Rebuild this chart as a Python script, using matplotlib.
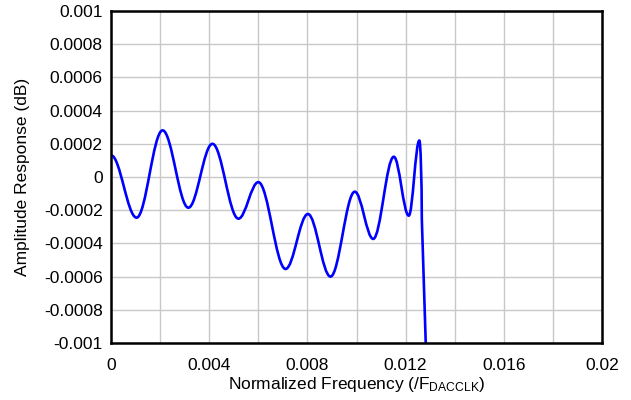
import matplotlib
matplotlib.use("Agg")
import matplotlib.pyplot as plt
from matplotlib.path import Path
from matplotlib.patches import PathPatch

# Ripple peaks / troughs (x in /F_DACCLK, y in dB)
peak_x = [0.0, 0.00104, 0.0021, 0.00315, 0.00413, 0.00519, 0.0060, 0.00711,
          0.00802, 0.00894, 0.00993, 0.01068, 0.01152, 0.01213, 0.01256]
peak_y = [0.000131, -0.000245, 0.000281, -0.000185, 0.0002, -0.000251, -0.000031,
          -0.000554, -0.000223, -0.0006, -0.0000885, -0.000373, 0.000122,
          -0.000233, 0.00022]

# roll-off after the last ripple
tail_x = [0.01266, 0.01282, 0.01288]
tail_y = [-0.00025, -0.001, -0.0012]

x_ticks = [0, 0.004, 0.008, 0.012, 0.016, 0.02]
x_labels = ["0", "0.004", "0.008", "0.012", "0.016", "0.02"]
y_ticks = [0.001, 0.0008, 0.0006, 0.0004, 0.0002, 0, -0.0002, -0.0004,
           -0.0006, -0.0008, -0.001]
y_labels = ["0.001", "0.0008", "0.0006", "0.0004", "0.0002", "0", "-0.0002",
            "-0.0004", "-0.0006", "-0.0008", "-0.001"]

plt.rcParams["font.family"] = ["Liberation Sans", "DejaVu Sans"]
plt.rcParams["mathtext.default"] = "regular"

fig = plt.figure(figsize=(6.31, 4.0), dpi=100)
ax = fig.add_axes([0.176, 0.1425, 0.778, 0.83])

# smooth curve: cubic bezier between neighbouring extrema (flat tangents)
verts = [(peak_x[0], peak_y[0])]
codes = [Path.MOVETO]
for i in range(1, len(peak_x)):
    x0, y0 = peak_x[i - 1], peak_y[i - 1]
    x1, y1 = peak_x[i], peak_y[i]
    d = 0.364 * (x1 - x0)
    verts += [(x0 + d, y0), (x1 - d, y1), (x1, y1)]
    codes += [Path.CURVE4] * 3

# steep drop after the last peak
x0, y0 = peak_x[-1], peak_y[-1]
x1, y1 = tail_x[0], tail_y[0]
dx = x1 - x0
verts += [(x0 + 0.5 * dx, y0), (x1 - 0.05 * dx, y1 + 0.5 * (y0 - y1)), (x1, y1)]
codes += [Path.CURVE4] * 3
for tx, ty in zip(tail_x[1:], tail_y[1:]):
    verts.append((tx, ty))
    codes.append(Path.LINETO)

curve = PathPatch(Path(verts, codes), fill=False, edgecolor="#0000ff",
                  linewidth=1.9, capstyle="round", joinstyle="round", zorder=3)
ax.add_patch(curve)

ax.set_xlim(0, 0.02)
ax.set_ylim(-0.001, 0.001)

ax.set_xticks(x_ticks)
ax.set_xticklabels(x_labels)
ax.set_yticks(y_ticks)
ax.set_yticklabels(y_labels)
ax.set_xticks([0.002 * k for k in range(11)], minor=True)

ax.grid(True, which="both", axis="x", color="#c8c8c8", linewidth=1.0)
ax.grid(True, which="major", axis="y", color="#c8c8c8", linewidth=1.0)
ax.set_axisbelow(True)

ax.tick_params(which="both", length=0, labelsize=12.5)
ax.tick_params(axis="x", pad=11)
ax.tick_params(axis="y", pad=6)

for s in ax.spines.values():
    s.set_linewidth(1.8)
    s.set_color("black")
    s.set_zorder(4)

ax.set_xlabel("Normalized Frequency (/F$_{DACCLK}$)", fontsize=12.5, labelpad=1)
ax.set_ylabel("Amplitude Response (dB)", fontsize=12.5, labelpad=10)

fig.savefig("out.png", dpi=100)
